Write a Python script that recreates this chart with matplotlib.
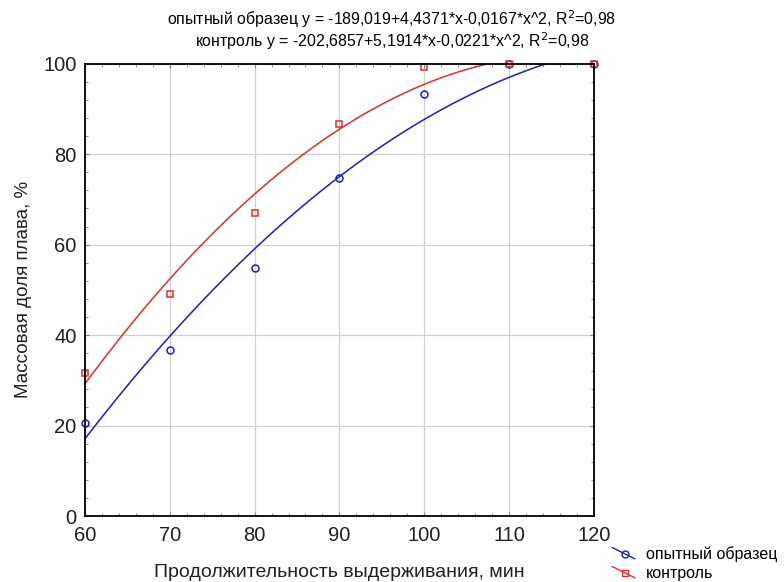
import numpy as np
import matplotlib
matplotlib.use("Agg")
import matplotlib.pyplot as plt
from matplotlib.lines import Line2D
from matplotlib.legend_handler import HandlerLine2D
from matplotlib.ticker import MultipleLocator

plt.rcParams['font.family'] = ['Liberation Sans', 'DejaVu Sans']

# data
time_min = [60, 70, 80, 90, 100, 110, 120]
sample = [20.5, 36.8, 54.8, 74.7, 93.3, 100, 100]
control = [31.7, 49.1, 67.0, 86.6, 99.2, 100, 100]
# quadratic fit coefficients (b0, b1, b2) from the title
coef_sample = [-189.019, 4.4371, -0.0167]
coef_control = [-202.6857, 5.1914, -0.0221]
names = ["опытный образец", "контроль"]

blue = "#1c1cc8"
red = "#e0302c"


class DiagHandler(HandlerLine2D):
    def create_artists(self, legend, orig, xd, yd, w, h, fs, trans):
        ln = Line2D([-xd, -xd + w], [-yd + h * 1.0, -yd + h * 0.0],
                    color=orig.get_color(), lw=orig.get_linewidth())
        mk = Line2D([-xd + w * 0.55], [-yd + h * 0.45], marker=orig.get_marker(),
                    markersize=orig.get_markersize(), markerfacecolor="none",
                    markeredgecolor=orig.get_markeredgecolor(), linestyle="none")
        ln.set_transform(trans)
        mk.set_transform(trans)
        return [ln, mk]


fig = plt.figure(figsize=(7.84, 5.82), dpi=100)
ax = fig.add_axes([0.1084, 0.1134, 0.649, 0.777])

xx = np.linspace(60, 120, 300)
fit_s = coef_sample[0] + coef_sample[1] * xx + coef_sample[2] * xx ** 2
fit_c = coef_control[0] + coef_control[1] * xx + coef_control[2] * xx ** 2
ax.plot(xx, fit_s, color=blue, lw=1.1)
ax.plot(xx, fit_c, color=red, lw=1.1)
ax.plot(time_min, sample, "o", ms=5, mfc="none", mec=blue, mew=1.1, clip_on=False)
ax.plot(time_min, control, "s", ms=5, mfc="none", mec=red, mew=1.1, clip_on=False)

ax.set_xlim(60, 120)
ax.set_ylim(0, 100)
ax.xaxis.set_major_locator(MultipleLocator(10))
ax.yaxis.set_major_locator(MultipleLocator(20))
ax.xaxis.set_minor_locator(MultipleLocator(2))
ax.yaxis.set_minor_locator(MultipleLocator(4))
ax.grid(True, which="major", color="#d0d0d0", lw=0.9)
ax.set_axisbelow(True)
ax.tick_params(which="both", direction="in", color="#808080", top=True, right=True)
ax.tick_params(which="major", length=3, labelsize=14.5, labelcolor="#202020")
ax.tick_params(axis="x", which="major", pad=7)
ax.tick_params(axis="y", which="major", pad=6)
ax.tick_params(which="minor", length=2.5)
for s in ax.spines.values():
    s.set_linewidth(1.3)

ax.set_xlabel("Продолжительность выдерживания, мин", fontsize=14, labelpad=14, color="#202020")
ax.set_ylabel("Массовая доля плава, %", fontsize=13.5, labelpad=8, color="#202020")

fig.text(0.5, 0.967, "опытный образец y = -189,019+4,4371*x-0,0167*x^2, R$^2$=0,98",
         ha="center", va="center", fontsize=11.4)
fig.text(0.5, 0.93, "контроль y = -202,6857+5,1914*x-0,0221*x^2, R$^2$=0,98",
         ha="center", va="center", fontsize=11.4)

h1 = Line2D([], [], color=blue, marker="o", ms=5, mec=blue, lw=1)
h2 = Line2D([], [], color=red, marker="s", ms=5, mec=red, lw=1)
fig.legend([h1, h2], names, handler_map={Line2D: DiagHandler()},
           loc="upper left", bbox_to_anchor=(0.781, 0.062), frameon=False,
           borderpad=0, borderaxespad=0,
           fontsize=11.5, handlelength=1.4, handletextpad=0.7, labelspacing=0.25)

fig.savefig("out.png", dpi=100)
